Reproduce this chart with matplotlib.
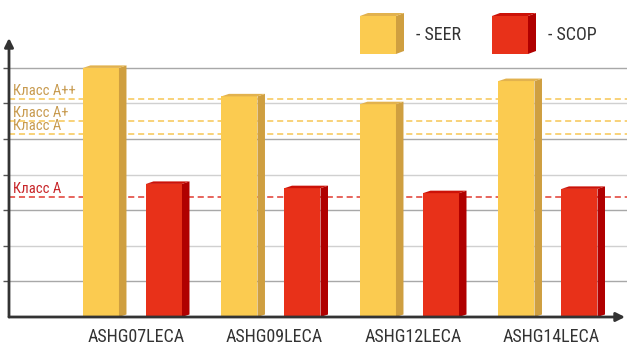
import matplotlib

matplotlib.use("Agg")
import matplotlib.pyplot as plt
from matplotlib import font_manager
from matplotlib.patches import Polygon, Rectangle


def pick_narrow_font():
    # the reference uses an Arial Narrow style face; take the narrowest one installed
    fonts = font_manager.fontManager.ttflist
    for key in ["Liberation Sans Narrow", "Arial Narrow", "Roboto Condensed",
                "Open Sans Condensed", "Noto Sans Condensed", "Noto Sans ExtraCondensed"]:
        for f in fonts:
            if f.name == key or (key in f.name and f.weight in (400, "normal", "regular")):
                return dict(family=[f.name, "DejaVu Sans"], stretch=f.stretch)
    for f in fonts:
        if f.stretch in ("extra-condensed", "condensed", "semi-condensed") and f.style == "normal" \
                and f.weight in (400, "normal", "regular"):
            return dict(family=[f.name, "DejaVu Sans"], stretch=f.stretch)
    return dict(family=["DejaVu Sans"], stretch="condensed")


FONT = pick_narrow_font()

models = ["ASHG07LECA", "ASHG09LECA", "ASHG12LECA", "ASHG14LECA"]
seer = [7.0, 6.2, 5.98, 6.63]
scop = [3.74, 3.62, 3.48, 3.6]

seer_class_names = ["Класс A++", "Класс A+", "Класс A"]
seer_class_levels = [6.12, 5.5, 5.14]
scop_class_names = ["Класс A"]
scop_class_levels = [3.37]

grid_levels = [1, 2, 3, 4, 5, 6, 7]

SEER_FRONT, SEER_SIDE, SEER_TOP = "#fbcb50", "#cf9f40", "#e2b24e"
SCOP_FRONT, SCOP_SIDE, SCOP_TOP = "#e83119", "#b00000", "#cc1208"
TEXT = "#333333"

W, H = 627, 345
fig = plt.figure(figsize=(W / 100, H / 100), dpi=100)
ax_px = (9, 28, 618, 279)  # left, bottom, width, height in pixels
ax = fig.add_axes([ax_px[0] / W, ax_px[1] / H, ax_px[2] / W, ax_px[3] / H])

xlim = (-0.917, 3.545)
ylim = (0, 7.84)
ax.set_xlim(*xlim)
ax.set_ylim(*ylim)

# data units per pixel, for the fake 3d depth
ux = (xlim[1] - xlim[0]) / ax_px[2]
uy = (ylim[1] - ylim[0]) / ax_px[3]
dx, dy = 7.5 * ux, 2.5 * uy

bar_w = 0.26
offsets = {"seer": -0.253, "scop": 0.202}

for lvl in grid_levels:
    ax.axhline(lvl, color="#a8a8a8" if lvl % 2 else "#d0d0d0", lw=1.0, zorder=1)

for names, levels, lcol, tcol in [
    (seer_class_names, seer_class_levels, "#f7c655", "#c89b50"),
    (scop_class_names, scop_class_levels, "#e03a30", "#c8262a"),
]:
    for name, lvl in zip(names, levels):
        ax.axhline(lvl, color=lcol, lw=1.1, ls=(0, (4, 2.5)), zorder=1.5)
        ax.annotate(name, xy=(0, lvl), xycoords=("axes fraction", "data"),
                    xytext=(4, 1.5), textcoords="offset pixels",
                    va="bottom", ha="left", fontsize=10.5, color=tcol, **FONT)


def bars_3d(xs, hs, front, side, top):
    ax.bar(xs, hs, width=bar_w, color=front, zorder=3)
    for x, h in zip(xs, hs):
        x1 = x + bar_w / 2
        x0 = x - bar_w / 2
        ax.add_patch(Polygon([(x1, 0), (x1 + dx, dy), (x1 + dx, h + dy), (x1, h)],
                             closed=True, color=side, lw=0, zorder=3))
        ax.add_patch(Polygon([(x0, h), (x0 + dx, h + dy), (x1 + dx, h + dy), (x1, h)],
                             closed=True, color=top, lw=0, zorder=3))


idx = range(len(models))
bars_3d([i + offsets["seer"] for i in idx], seer, SEER_FRONT, SEER_SIDE, SEER_TOP)
bars_3d([i + offsets["scop"] for i in idx], scop, SCOP_FRONT, SCOP_SIDE, SCOP_TOP)

ax.set_xticks(list(idx))
ax.set_xticklabels(models, fontsize=13, color=TEXT, **FONT)
ax.tick_params(axis="x", length=0, pad=8)
ax.set_yticks(grid_levels)
ax.set_yticklabels([])
ax.tick_params(axis="y", length=4, width=1, color="#555555")
for s in ax.spines.values():
    s.set_visible(False)
ax.patch.set_alpha(0)

# axis arrows
arrow = dict(arrowstyle="-|>", lw=2, color=TEXT, mutation_scale=13, shrinkA=0, shrinkB=0)
ax.annotate("", xy=(616 / 618, 0), xytext=(0, 0), xycoords="axes fraction", arrowprops=arrow)
ax.annotate("", xy=(0, 1.0), xytext=(0, 0), xycoords="axes fraction", arrowprops=arrow)

# legend drawn as little cubes
lax = fig.add_axes([0, 0, 1, 1], zorder=-1)
lax.set_xlim(0, W)
lax.set_ylim(H, 0)
lax.axis("off")


def cube(x, y, w, h, front, side, top):
    lax.add_patch(Rectangle((x, y), w, h, color=front, lw=0))
    lax.add_patch(Polygon([(x + w, y), (x + w + 8, y - 3), (x + w + 8, y + h - 3), (x + w, y + h)],
                          closed=True, color=side, lw=0))
    lax.add_patch(Polygon([(x, y), (x + 8, y - 3), (x + w + 8, y - 3), (x + w, y)],
                          closed=True, color=top, lw=0))


cube(360, 16, 36, 38, SEER_FRONT, SEER_SIDE, SEER_TOP)
lax.text(416, 35, "- SEER", fontsize=13, color=TEXT, va="center", ha="left", **FONT)
cube(492, 16, 36, 38, SCOP_FRONT, SCOP_SIDE, SCOP_TOP)
lax.text(548, 35, "- SCOP", fontsize=13, color=TEXT, va="center", ha="left", **FONT)

fig.savefig("out.png", dpi=100, facecolor="white")
plt.close(fig)
